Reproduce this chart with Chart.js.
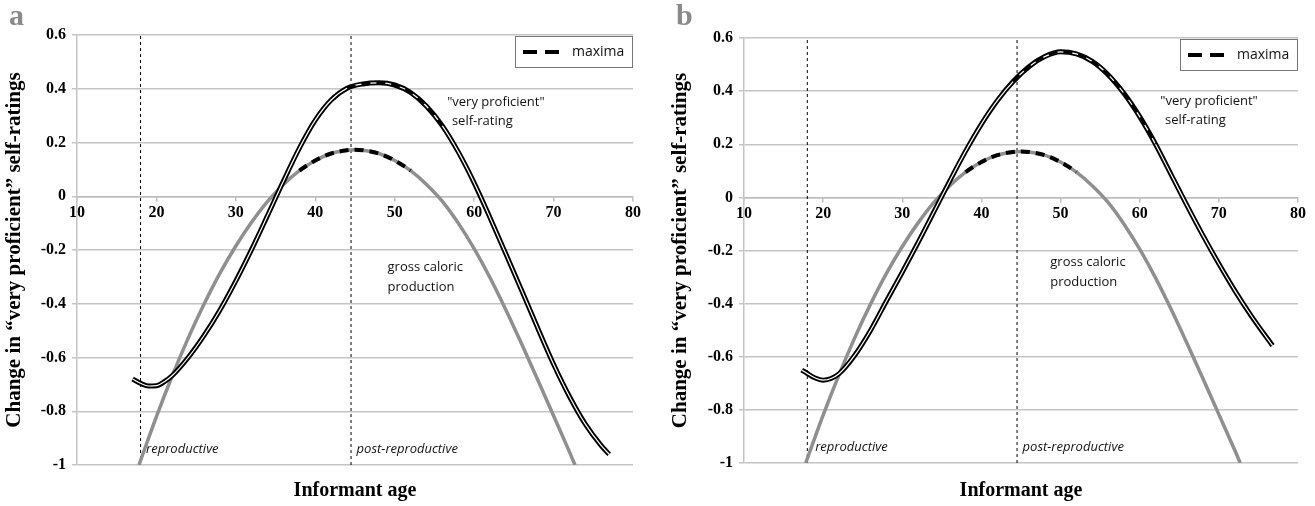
<!DOCTYPE html>
<html>
<head>
<meta charset="utf-8">
<script src="https://cdn.jsdelivr.net/npm/chart.js@4.4.1/dist/chart.umd.min.js"></script>
<style>
  body { margin: 0; background: #fff; }
  .panel { position: absolute; top: 0; }
  .letter { position: absolute; top: -2px; font: bold 30px "Liberation Serif", serif; color: #8a8a8a; }
</style>
</head>
<body>
<div class="panel" style="left:0"><canvas id="chartA" width="655" height="506"></canvas></div>
<div class="panel" style="left:655px"><canvas id="chartB" width="660" height="506"></canvas></div>
<div class="letter" style="left:9px">a</div>
<div class="letter" style="left:676px">b</div>
<script>
// Data

const xTicks = [10, 20, 30, 40, 50, 60, 70, 80];
const yTicks = [-1, -0.8, -0.6, -0.4, -0.2, 0, 0.2, 0.4, 0.6];
const phaseAges = [18, 44.5];

// gross caloric production (same curve in both panels)
const grossAges   = [17.8, 20, 22, 24, 26, 28, 30, 32, 34, 36, 38, 40, 42, 44, 45, 46, 48, 50, 52, 54, 56, 58, 60, 62, 64, 66, 68, 70, 72, 72.7];
const grossValues = [-1.0, -0.82, -0.668, -0.528, -0.401, -0.286, -0.185, -0.096, -0.019, 0.044, 0.095, 0.133, 0.159, 0.171, 0.173, 0.171, 0.159, 0.133, 0.095, 0.044, -0.019, -0.1, -0.195, -0.303, -0.423, -0.551, -0.683, -0.817, -0.951, -1.0];

// "very proficient" self-rating, panel a
const selfAgesA   = [17, 18, 19, 20, 21, 22, 24, 26, 28, 30, 32, 34, 36, 38, 40, 42, 44, 46, 48, 50, 52, 54, 56, 58, 60, 62, 64, 66, 68, 70, 72, 74, 76, 77];
const selfValuesA = [-0.68, -0.696, -0.706, -0.705, -0.69, -0.667, -0.6, -0.518, -0.423, -0.315, -0.197, -0.071, 0.057, 0.179, 0.283, 0.358, 0.402, 0.418, 0.422, 0.414, 0.386, 0.335, 0.262, 0.165, 0.05, -0.08, -0.215, -0.352, -0.49, -0.625, -0.745, -0.848, -0.928, -0.96];

// "very proficient" self-rating, panel b
const selfAgesB   = [17.3, 18, 19, 20, 21, 22, 24, 26, 28, 30, 32, 34, 36, 38, 40, 42, 44, 46, 48, 50, 52, 54, 56, 58, 60, 62, 64, 66, 68, 70, 72, 74, 76, 76.8];
const selfValuesB = [-0.65, -0.663, -0.68, -0.688, -0.682, -0.664, -0.594, -0.5, -0.39, -0.282, -0.17, -0.054, 0.062, 0.174, 0.276, 0.364, 0.436, 0.492, 0.53, 0.548, 0.54, 0.512, 0.462, 0.392, 0.304, 0.2, 0.084, -0.032, -0.144, -0.25, -0.35, -0.442, -0.526, -0.558];

// age ranges marked as maxima
const maximaGross = [39, 51];
const maximaSelfA = [44, 56];
const maximaSelfB = [45, 61];

const toPoints = (xs, ys) => xs.map((x, i) => ({x: x, y: ys[i]}));

function line(points, color, width, order, extra) {
    return Object.assign({
        data: points,
        borderColor: color,
        borderWidth: width,
        order: order,
        pointRadius: 0,
        fill: false,
        cubicInterpolationMode: 'monotone'
    }, extra || {});
}

function maxima(points, range, width, order) {
    return line(points, '#000', width, order, {
        borderDash: [9, 6],
        segment: {
            borderColor: ctx => {
                const mid = (ctx.p0.parsed.x + ctx.p1.parsed.x) / 2;
                return (mid >= range[0] && mid <= range[1]) ? '#000' : 'rgba(0,0,0,0)';
            }
        }
    });
}

// text notes and the small legend box inside the plot
const notesPlugin = {
    id: 'notes',
    afterDatasetsDraw(chart, args, opts) {
        const c = chart.ctx;
        const xs = chart.scales.x, ys = chart.scales.y;
        c.save();
        c.fillStyle = '#111';
        c.textBaseline = 'middle';
        c.textAlign = 'left';
        opts.texts.forEach(t => {
            c.font = (t.italic ? 'italic ' : '') + '13px "Open Sans", sans-serif';
            c.fillText(t.text, xs.getPixelForValue(t.x), ys.getPixelForValue(t.y));
        });
        // legend
        const area = chart.chartArea;
        const bw = 118, bh = 32;
        const bx = area.right - bw, by = area.top + 1;
        c.fillStyle = '#fff';
        c.fillRect(bx, by, bw, bh);
        c.strokeStyle = '#777';
        c.lineWidth = 1;
        c.strokeRect(bx + 0.5, by + 0.5, bw - 1, bh - 1);
        c.strokeStyle = '#000';
        c.lineWidth = 4;
        c.setLineDash([14, 8]);
        c.beginPath();
        c.moveTo(bx + 8, by + bh / 2);
        c.lineTo(bx + 44, by + bh / 2);
        c.stroke();
        c.setLineDash([]);
        c.fillStyle = '#111';
        c.font = '14px "Open Sans", sans-serif';
        c.fillText('maxima', bx + 57, by + bh / 2);
        c.restore();
    }
};

function build(id, selfAges, selfValues, selfRange, cfg) {
    const gross = toPoints(grossAges, grossValues);
    const self = toPoints(selfAges, selfValues);
    const vlines = phaseAges.map(a => line([{x: a, y: yTicks[0]}, {x: a, y: yTicks[yTicks.length - 1]}], '#000', 1, 6, {borderDash: [3, 3], cubicInterpolationMode: 'default', tension: 0}));

    return new Chart(document.getElementById(id), {
        type: 'line',
        data: {
            datasets: [
                ...vlines,
                line(gross, '#8f8f8f', 3.5, 5),
                maxima(gross, maximaGross, 4, 4),
                line(self, '#000', 5, 3),
                line(self, '#fff', 1.2, 2),
                maxima(self, selfRange, 2.5, 1)
            ]
        },
        options: {
            responsive: false,
            animation: false,
            layout: { padding: { left: cfg.padLeft, top: cfg.padTop, right: cfg.padRight, bottom: 0 } },
            plugins: {
                legend: { display: false },
                tooltip: { enabled: false },
                notes: { texts: cfg.texts }
            },
            scales: {
                x: {
                    type: 'linear',
                    position: { y: 0 },
                    min: xTicks[0],
                    max: xTicks[xTicks.length - 1],
                    afterBuildTicks: s => { s.ticks = xTicks.map(v => ({value: v})); },
                    grid: { drawOnChartArea: false, drawTicks: true, tickLength: 4, color: '#bdbdbd', lineWidth: 1.5 },
                    border: { color: '#bdbdbd', width: 1.5 },
                    ticks: { color: '#000', padding: 3, maxRotation: 0, font: { family: '"Liberation Serif", serif', weight: 'bold', size: 16 } }
                },
                x2: {
                    type: 'linear',
                    position: 'bottom',
                    min: xTicks[0],
                    max: xTicks[xTicks.length - 1],
                    ticks: { display: false },
                    grid: { display: false },
                    border: { display: false },
                    afterFit: s => { s.height = cfg.bottomH; },
                    title: { display: true, text: 'Informant age', color: '#000', padding: { top: 0, bottom: 3 }, font: { family: '"Liberation Serif", serif', weight: 'bold', size: 20 } }
                },
                y: {
                    min: yTicks[0],
                    max: yTicks[yTicks.length - 1],
                    afterBuildTicks: s => { s.ticks = yTicks.map(v => ({value: v})); },
                    afterFit: s => { s.width = cfg.yWidth; },
                    grid: { color: '#c4c4c4', lineWidth: 1.5, tickLength: 5 },
                    border: { color: '#c4c4c4', width: 1.5 },
                    ticks: {
                        color: '#000', padding: 6,
                        font: { family: '"Liberation Serif", serif', weight: 'bold', size: 16 },
                        callback: v => String(Math.round(v * 10) / 10)
                    },
                    title: { display: true, text: 'Change in \u201cvery proficient\u201d self-ratings', color: '#000', padding: { top: 2, bottom: 0 }, font: { family: '"Liberation Serif", serif', weight: 'bold', size: 21 } }
                }
            }
        },
        plugins: [notesPlugin]
    });
}

build('chartA', selfAgesA, selfValuesA, maximaSelfA, {
    padLeft: 0, padTop: 35, padRight: 22, yWidth: 77, bottomH: 41,
    texts: [
        {text: '"very proficient"', x: 56.6, y: 0.35},
        {text: 'self-rating', x: 57.2, y: 0.28},
        {text: 'gross caloric', x: 49.1, y: -0.265},
        {text: 'production', x: 49.1, y: -0.34},
        {text: 'reproductive', x: 18.7, y: -0.94, italic: true},
        {text: 'post-reproductive', x: 45.2, y: -0.94, italic: true}
    ]
});

build('chartB', selfAgesB, selfValuesB, maximaSelfB, {
    padLeft: 11, padTop: 38, padRight: 17, yWidth: 78, bottomH: 43,
    texts: [
        {text: '"very proficient"', x: 62.6, y: 0.36},
        {text: 'self-rating', x: 63.2, y: 0.29},
        {text: 'gross caloric', x: 48.7, y: -0.245},
        {text: 'production', x: 48.7, y: -0.32},
        {text: 'reproductive', x: 19.0, y: -0.94, italic: true},
        {text: 'post-reproductive', x: 45.2, y: -0.94, italic: true}
    ]
});
</script>
</body>
</html>
